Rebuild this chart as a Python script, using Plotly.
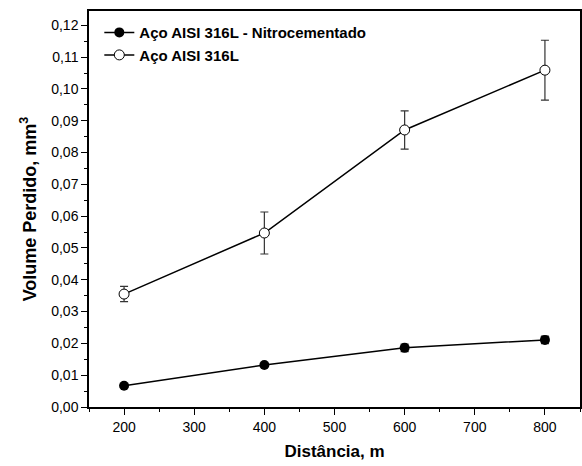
import plotly.graph_objects as go

distancia = [200, 400, 600, 800]
nitro_vals = [0.0067, 0.0132, 0.0186, 0.0211]
nitro_err = [0.0004, 0.0004, 0.0012, 0.0012]
aco_vals = [0.0355, 0.0547, 0.0871, 0.1059]
aco_err = [0.0024, 0.0066, 0.0060, 0.0094]
name_nitro = "Aço AISI 316L - Nitrocementado"
name_aco = "Aço AISI 316L"

fig = go.Figure()
fig.add_trace(go.Scatter(
    x=distancia, y=nitro_vals, name=name_nitro, mode="lines+markers",
    line=dict(color="black", width=1.5),
    marker=dict(symbol="circle", size=10, color="black"),
    error_y=dict(type="data", array=nitro_err, color="#333333", thickness=1.2, width=4),
))
fig.add_trace(go.Scatter(
    x=distancia, y=aco_vals, name=name_aco, mode="lines+markers",
    line=dict(color="black", width=1.5),
    marker=dict(symbol="circle", size=10, color="white", line=dict(color="black", width=1)),
    error_y=dict(type="data", array=aco_err, color="#333333", thickness=1.2, width=4),
))

font_family = "Liberation Sans, Arial, sans-serif"
fig.update_layout(
    width=582, height=466,
    margin=dict(l=89, r=2, t=11, b=59),
    paper_bgcolor="white", plot_bgcolor="white",
    separators=",.",
    font=dict(family=font_family, size=14, color="black"),
    showlegend=True,
    legend=dict(x=0.021, y=0.987, xanchor="left", yanchor="top",
                font=dict(size=15, family=font_family, weight="bold"),
                bgcolor="rgba(0,0,0,0)", tracegroupgap=0, itemwidth=30),
    xaxis=dict(
        range=[150, 850], tickvals=[200, 300, 400, 500, 600, 700, 800],
        ticks="outside", ticklen=6, tickwidth=1.2, tickcolor="black",
        minor=dict(dtick=50, tick0=150, ticks="outside", ticklen=3, tickwidth=1, tickcolor="black"),
        showline=True, linecolor="black", linewidth=1.5, mirror=True,
        showgrid=False, zeroline=False, automargin=False,
        title=dict(text="<b>Distância, m</b>", font=dict(size=17), standoff=12),
        tickfont=dict(size=14),
    ),
    yaxis=dict(
        range=[0, 0.1245], dtick=0.01, tick0=0, tickformat=".2f",
        ticks="outside", ticklen=6, tickwidth=1.2, tickcolor="black",
        minor=dict(dtick=0.005, ticks="outside", ticklen=3, tickwidth=1, tickcolor="black"),
        showline=True, linecolor="black", linewidth=1.5, mirror=True,
        showgrid=False, zeroline=False, automargin=False,
        title=dict(text="<b>Volume Perdido, mm<sup>3</sup></b>", font=dict(size=18), standoff=10),
        tickfont=dict(size=14),
    ),
)

fig.write_html(
    "out.html",
    config={"responsive": False, "displayModeBar": False},
    post_script="document.body.style.margin='0';document.body.style.overflow='hidden';",
)
